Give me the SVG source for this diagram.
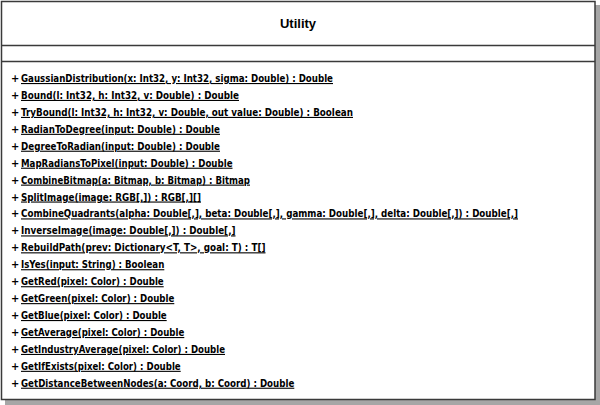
<svg xmlns="http://www.w3.org/2000/svg" width="600" height="405" viewBox="0 0 600 405">
<style>
.m{font-family:"DejaVu Sans Condensed","DejaVu Sans",sans-serif;font-stretch:condensed;font-weight:bold;font-size:11px;fill:#000}
.u{text-decoration:underline}
.t{font-family:"Liberation Sans",Arial,sans-serif;font-weight:bold;font-size:13px;fill:#000}
.b{fill:none;stroke:#3a3a3a;stroke-width:1.5}
</style>
<rect width="600" height="405" fill="#fff"/>
<g id="Utility">
<rect x="5" y="5" width="595" height="400" fill="#a6a6a6"/>
<rect x="1.5" y="1.5" width="593.5" height="398" fill="#fff"/>
<rect class="b" x="1.5" y="1.5" width="593.5" height="398"/>
<line class="b" x1="1.5" y1="45.5" x2="595" y2="45.5"/>
<line class="b" x1="1.5" y1="61.5" x2="595" y2="61.5"/>
<text class="t" x="298" y="28" text-anchor="middle">Utility</text>
<g class="m">
<text x="11" y="82">+</text>
<text x="11" y="98.9">+</text>
<text x="11" y="115.9">+</text>
<text x="11" y="132.8">+</text>
<text x="11" y="149.7">+</text>
<text x="11" y="166.7">+</text>
<text x="11" y="183.6">+</text>
<text x="11" y="200.5">+</text>
<text x="11" y="217.4">+</text>
<text x="11" y="234.4">+</text>
<text x="11" y="251.3">+</text>
<text x="11" y="268.2">+</text>
<text x="11" y="285.2">+</text>
<text x="11" y="302.1">+</text>
<text x="11" y="319">+</text>
<text x="11" y="336">+</text>
<text x="11" y="352.9">+</text>
<text x="11" y="369.8">+</text>
<text x="11" y="386.7">+</text>
<text class="u" x="21" y="82" textLength="312" lengthAdjust="spacingAndGlyphs">GaussianDistribution(x: Int32, y: Int32, sigma: Double) : Double</text>
<text class="u" x="21" y="98.9" textLength="218" lengthAdjust="spacingAndGlyphs">Bound(l: Int32, h: Int32, v: Double) : Double</text>
<text class="u" x="21" y="115.9" textLength="332" lengthAdjust="spacingAndGlyphs">TryBound(l: Int32, h: Int32, v: Double, out value: Double) : Boolean</text>
<text class="u" x="21" y="132.8" textLength="199" lengthAdjust="spacingAndGlyphs">RadianToDegree(input: Double) : Double</text>
<text class="u" x="21" y="149.7" textLength="199" lengthAdjust="spacingAndGlyphs">DegreeToRadian(input: Double) : Double</text>
<text class="u" x="21" y="166.7" textLength="211.5" lengthAdjust="spacingAndGlyphs">MapRadiansToPixel(input: Double) : Double</text>
<text class="u" x="21" y="183.6" textLength="229" lengthAdjust="spacingAndGlyphs">CombineBitmap(a: Bitmap, b: Bitmap) : Bitmap</text>
<text class="u" x="21" y="200.5" textLength="180" lengthAdjust="spacingAndGlyphs">SplitImage(image: RGB[,]) : RGB[,][]</text>
<text class="u" x="21" y="217.4" textLength="497" lengthAdjust="spacingAndGlyphs">CombineQuadrants(alpha: Double[,], beta: Double[,], gamma: Double[,], delta: Double[,]) : Double[,]</text>
<text class="u" x="21" y="234.4" textLength="214.5" lengthAdjust="spacingAndGlyphs">InverseImage(image: Double[,]) : Double[,]</text>
<text class="u" x="21" y="251.3" textLength="244.5" lengthAdjust="spacingAndGlyphs">RebuildPath(prev: Dictionary&lt;T, T&gt;, goal: T) : T[]</text>
<text class="u" x="21" y="268.2" textLength="143.3" lengthAdjust="spacingAndGlyphs">IsYes(input: String) : Boolean</text>
<text class="u" x="21" y="285.2" textLength="142.7" lengthAdjust="spacingAndGlyphs">GetRed(pixel: Color) : Double</text>
<text class="u" x="21" y="302.1" textLength="153.3" lengthAdjust="spacingAndGlyphs">GetGreen(pixel: Color) : Double</text>
<text class="u" x="21" y="319" textLength="145.7" lengthAdjust="spacingAndGlyphs">GetBlue(pixel: Color) : Double</text>
<text class="u" x="21" y="336" textLength="163.3" lengthAdjust="spacingAndGlyphs">GetAverage(pixel: Color) : Double</text>
<text class="u" x="21" y="352.9" textLength="204" lengthAdjust="spacingAndGlyphs">GetIndustryAverage(pixel: Color) : Double</text>
<text class="u" x="21" y="369.8" textLength="159.7" lengthAdjust="spacingAndGlyphs">GetIfExists(pixel: Color) : Double</text>
<text class="u" x="21" y="386.7" textLength="273.3" lengthAdjust="spacingAndGlyphs">GetDistanceBetweenNodes(a: Coord, b: Coord) : Double</text>
</g>
</g>
</svg>
